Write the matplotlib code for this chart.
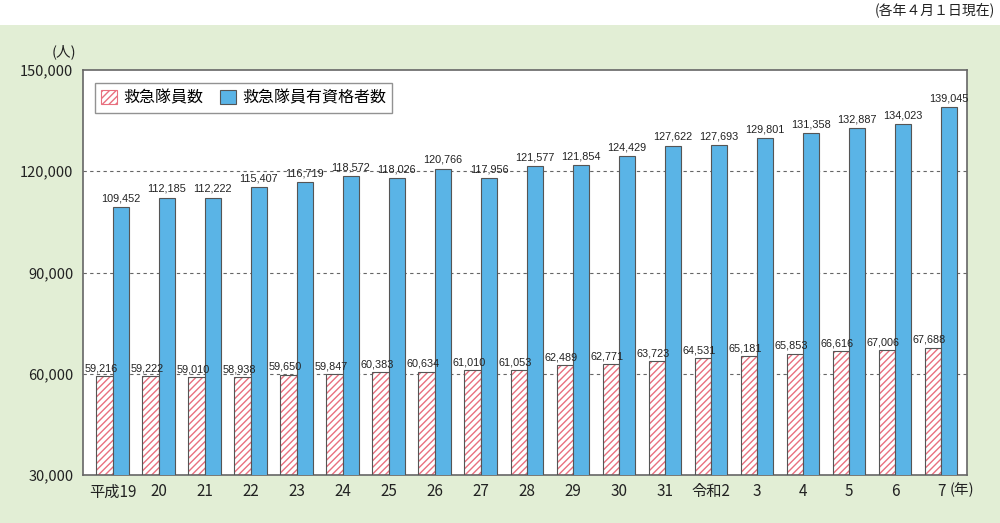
import numpy as np
import matplotlib
matplotlib.use("Agg")
import matplotlib.pyplot as plt
from matplotlib import font_manager
from matplotlib.patches import Rectangle, Patch

categories = ['平成19', '20', '21', '22', '23', '24', '25', '26', '27', '28',
              '29', '30', '31', '令和2', '3', '4', '5', '6', '7']
members = [59216, 59222, 59010, 58938, 59650, 59847, 60383, 60634, 61010, 61053,
           62489, 62771, 63723, 64531, 65181, 65853, 66616, 67006, 67688]
qualified = [109452, 112185, 112222, 115407, 116719, 118572, 118026, 120766, 117956, 121577,
             121854, 124429, 127622, 127693, 129801, 131358, 132887, 134023, 139045]
yticks = [30000, 60000, 90000, 120000, 150000]
series_names = ['救急隊員数', '救急隊員有資格者数']

CJK = ['Noto Sans CJK JP', 'DejaVu Sans']
plt.rcParams['font.family'] = CJK
plt.rcParams['hatch.linewidth'] = 1.0

avail = {f.name for f in font_manager.fontManager.ttflist}
narrow = 'Liberation Sans Narrow' if 'Liberation Sans Narrow' in avail else 'Liberation Sans'

GREEN = '#E2EED5'
BLUE = '#5AB4E6'
PINK = '#E8707F'
EDGE = '#555555'

fig = plt.figure(figsize=(10, 5.23), dpi=100, facecolor=GREEN)
fig.patches.append(Rectangle((0, 1 - 25 / 523), 1, 25 / 523, transform=fig.transFigure,
                             facecolor='white', edgecolor='none', zorder=0))
fig.text(0.995, 1 - 10 / 523, '(各年４月１日現在)', ha='right', va='center', fontsize=10, color='#222')

ax = fig.add_axes([0.083, 48 / 523, 0.884, 405 / 523])
ax.set_facecolor('white')

x = np.arange(len(categories))
w = 0.355
ax.bar(x - w, members, width=w, align='edge', bottom=0, facecolor='white',
       edgecolor=PINK, hatch='/////', linewidth=0, zorder=2)
ax.bar(x - w, members, width=w, align='edge', fill=False, edgecolor=EDGE, linewidth=0.8, zorder=3)
ax.bar(x, qualified, width=w, align='edge', facecolor=BLUE, edgecolor=EDGE, linewidth=0.8, zorder=3)

for xi, v in zip(x, members):
    ax.text(xi - w / 2 - 0.08, v + 900, f'{v:,}', ha='center', va='bottom',
            fontsize=7.8, family=narrow, color='#222', zorder=4)
for xi, v in zip(x, qualified):
    ax.text(xi + w / 2, v + 1100, f'{v:,}', ha='center', va='bottom',
            fontsize=7.8, family=narrow, color='#222', zorder=4)

ax.set_ylim(30000, 150000)
ax.set_xlim(-0.645, 18.565)
ax.set_yticks(yticks)
ax.set_yticklabels([f'{t:,}' for t in yticks])
ax.set_xticks(x)
ax.set_xticklabels(categories)
ax.tick_params(axis='both', length=0, labelsize=11, colors='#222')
ax.tick_params(axis='y', pad=7, labelsize=10.5)
ax.tick_params(axis='x', pad=6)

for t in [60000, 90000, 120000]:
    ax.axhline(t, color='#666', linestyle=(0, (3, 3)), linewidth=0.8, zorder=1)

for s in ax.spines.values():
    s.set_color('#666')
    s.set_linewidth(1.2)

fig.text(64 / 1000, 1 - 52 / 523, '(人)', ha='center', va='center', fontsize=10.5, color='#222')
fig.text(962 / 1000, 1 - 490 / 523, '(年)', ha='center', va='center', fontsize=10.5, color='#222')

handles = [Patch(facecolor='white', edgecolor=PINK, hatch='/////', linewidth=0.8),
           Patch(facecolor=BLUE, edgecolor=EDGE, linewidth=0.8)]
leg = ax.legend(handles, series_names, loc='upper left', bbox_to_anchor=(0.0136, 0.968),
                ncol=2, fontsize=11.5, frameon=True, fancybox=False, edgecolor='#777',
                handlelength=1.0, handleheight=1.0, handletextpad=0.4, columnspacing=1.0,
                borderpad=0.4, borderaxespad=0)
leg.get_frame().set_linewidth(1.0)

fig.savefig('out.png', dpi=100, facecolor=GREEN)
